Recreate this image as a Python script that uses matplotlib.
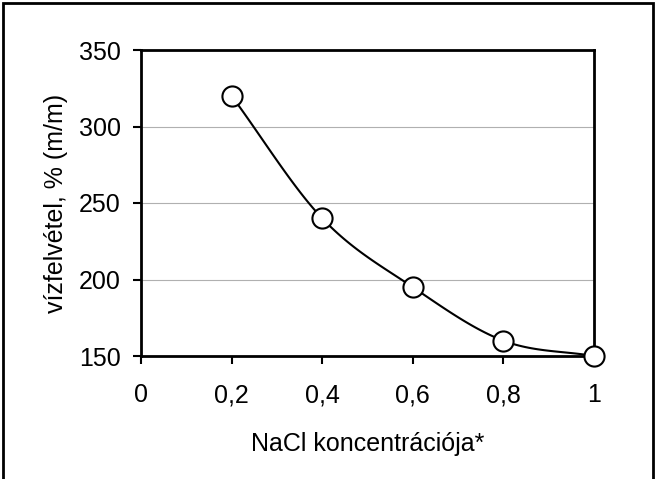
import numpy as np
import matplotlib.pyplot as plt
from matplotlib.patches import Rectangle

plt.rcParams['font.family'] = ['Liberation Sans', 'DejaVu Sans']

nacl = [0.2, 0.4, 0.6, 0.8, 1.0]
felvetel = [320, 240, 195, 160, 150]
xticks = [0, 0.2, 0.4, 0.6, 0.8, 1]
xticklabels = ['0', '0,2', '0,4', '0,6', '0,8', '1']
yticks = [150, 200, 250, 300, 350]


def catmull_rom(x, y, n=30):
    # Excel-style smoothed line through the points
    x = np.asarray(x, float)
    y = np.asarray(y, float)
    px = np.concatenate([[2 * x[0] - x[1]], x, [2 * x[-1] - x[-2]]])
    py = np.concatenate([[2 * y[0] - y[1]], y, [2 * y[-1] - y[-2]]])
    xs, ys = [], []
    t = np.linspace(0, 1, n)
    for i in range(1, len(px) - 2):
        for p, out in ((px, xs), (py, ys)):
            p0, p1, p2, p3 = p[i - 1], p[i], p[i + 1], p[i + 2]
            out.extend(0.5 * (2 * p1 + (-p0 + p2) * t
                              + (2 * p0 - 5 * p1 + 4 * p2 - p3) * t ** 2
                              + (-p0 + 3 * p1 - 3 * p2 + p3) * t ** 3))
    return np.array(xs), np.array(ys)


fig = plt.figure(figsize=(6.56, 4.79), dpi=100)
ax = fig.add_axes([141 / 656, 1 - 356 / 479, 453 / 656, 306 / 479])

sx, sy = catmull_rom(nacl, felvetel)
ax.plot(sx, sy, color='black', lw=1.5, zorder=3, clip_on=False)
ax.plot(nacl, felvetel, 'o', ms=14.5, mfc='white', mec='black', mew=1.5,
        zorder=4, clip_on=False)

ax.set_xlim(0, 1)
ax.set_ylim(150, 350)
ax.set_xticks(xticks)
ax.set_xticklabels(xticklabels)
ax.set_yticks(yticks)
ax.tick_params(labelsize=18, length=5.5, width=1.5, color='black', pad=9)
ax.tick_params(axis='x', pad=14)
ax.grid(axis='y', color='#b0b0b0', lw=0.8)
ax.set_axisbelow(True)
for s in ax.spines.values():
    s.set_linewidth(2)
    s.set_color('black')

ax.set_ylabel('vízfelvétel, % (m/m)', fontsize=18, labelpad=8)
ax.set_xlabel('NaCl koncentrációja*', fontsize=18, labelpad=18)

fig.patches.append(Rectangle((3 / 656, -0.01), 650 / 656, 1 - 3 / 479 + 0.01,
                             transform=fig.transFigure, fill=False,
                             edgecolor='black', lw=2))

fig.savefig('out.png', dpi=100)
